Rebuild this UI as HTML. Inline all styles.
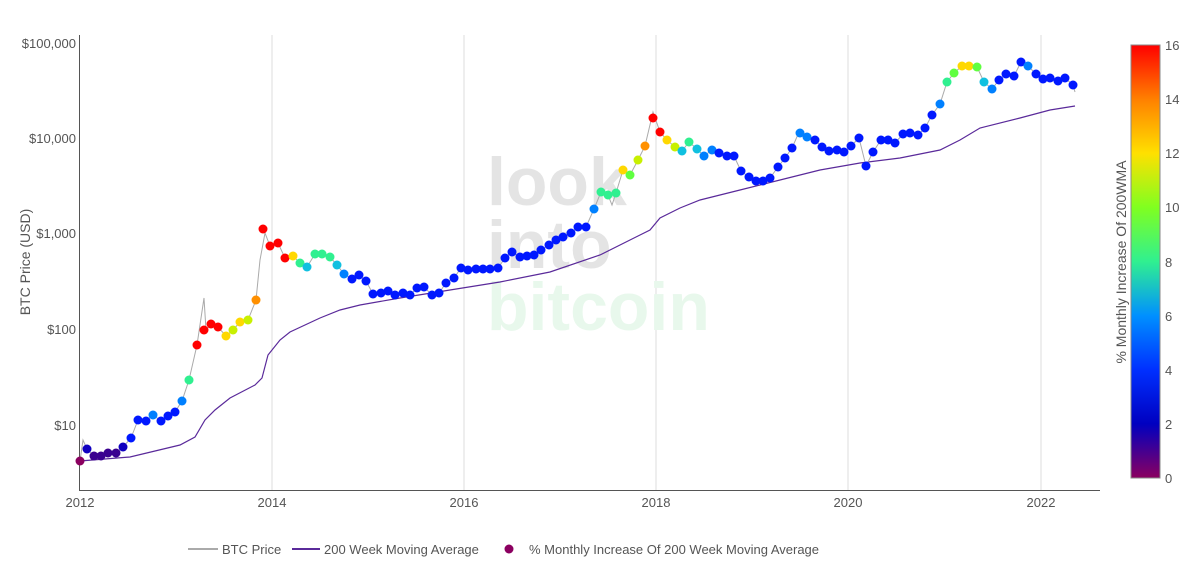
<!DOCTYPE html>
<html><head><meta charset="utf-8"><style>
body{margin:0;background:#fff;font-family:"Liberation Sans",sans-serif}
svg text{font-family:"Liberation Sans",sans-serif;fill:#555}
</style></head><body>
<svg width="1200" height="575" xmlns="http://www.w3.org/2000/svg">
<defs><linearGradient id="cb" x1="0" y1="1" x2="0" y2="0">
<stop offset="0" stop-color="#8b0060"/><stop offset="0.125" stop-color="#0000c0"/><stop offset="0.25" stop-color="#0030ff"/><stop offset="0.375" stop-color="#0090ff"/><stop offset="0.5" stop-color="#30f090"/><stop offset="0.625" stop-color="#80ff20"/><stop offset="0.75" stop-color="#ffe000"/><stop offset="0.875" stop-color="#ff8000"/><stop offset="1" stop-color="#ff0000"/></linearGradient></defs>
<g stroke="#ddd" stroke-width="1">
<line x1="272" y1="35" x2="272" y2="490"/><line x1="464" y1="35" x2="464" y2="490"/><line x1="656" y1="35" x2="656" y2="490"/><line x1="848" y1="35" x2="848" y2="490"/><line x1="1041" y1="35" x2="1041" y2="490"/></g>
<line x1="79.5" y1="35" x2="79.5" y2="490" stroke="#555"/>
<line x1="79" y1="490.5" x2="1100" y2="490.5" stroke="#555"/>
<g font-size="13" text-anchor="end"><text x="76" y="48">$100,000</text><text x="76" y="143">$10,000</text><text x="76" y="238">$1,000</text><text x="76" y="334">$100</text><text x="76" y="430">$10</text></g>
<g font-size="13" text-anchor="middle"><text x="80" y="507">2012</text><text x="272" y="507">2014</text><text x="464" y="507">2016</text><text x="656" y="507">2018</text><text x="848" y="507">2020</text><text x="1041" y="507">2022</text></g>
<text transform="translate(30,262) rotate(-90)" font-size="14" text-anchor="middle">BTC Price (USD)</text>
<g font-size="68" font-weight="bold"><text x="487" y="205" style="fill:#e4e4e4">look</text><text x="487" y="268" style="fill:#e4e4e4">into</text><text x="487" y="330" style="fill:#e8f8ec">bitcoin</text></g>
<polyline fill="none" stroke="#5a2a9a" stroke-width="1.2" points="80,461 130,457 180,445 195,437 205,420 215,410 230,398 255,385 262,378 268,355 280,340 290,332 320,318 340,310 360,305 400,298 450,290 500,282 550,272 600,255 630,240 650,230 660,218 680,208 700,200 740,190 780,180 820,170 860,163 900,158 940,150 960,140 980,128 1020,118 1050,110 1075,106"/>
<polyline fill="none" stroke="#aaa" stroke-width="1" points="80,461 83,440 87,449 94,456 101,456 108,453 116,453 123,447 131,438 138,420 146,421 153,415 161,421 168,416 175,412 182,401 189,380 197,345 204,298 206,330 211,324 218,327 226,336 233,330 240,322 248,320 256,300 260,260 265,233 270,246 278,243 285,258 293,256 300,263 307,267 315,254 322,254 330,257 337,265 344,274 352,279 359,275 366,281 373,294 381,293 388,291 395,295 403,293 410,295 417,288 424,287 432,295 439,293 446,283 454,278 461,268 468,270 476,269 483,269 490,269 498,268 505,258 512,252 520,257 527,256 534,255 541,250 549,245 556,240 563,237 571,233 578,227 586,227 594,209 601,192 608,195 612,205 616,193 623,170 630,175 638,160 645,146 653,112 660,132 667,140 675,147 682,151 689,142 697,149 704,156 712,150 719,153 727,156 734,156 741,171 749,177 756,181 763,181 770,178 778,167 785,158 792,148 800,130 807,137 815,140 822,147 829,151 837,150 844,152 851,146 859,138 866,166 873,152 881,140 888,140 895,143 903,134 910,133 918,135 925,128 932,115 940,104 947,82 954,73 962,66 969,66 977,67 984,82 992,89 999,80 1006,74 1014,76 1021,62 1028,66 1036,74 1043,79 1050,78 1058,81 1065,78 1073,85 1075,92"/>
<g id="dots"></g>
<rect x="1131" y="45" width="29" height="433" fill="url(#cb)" stroke="#888"/>
<g font-size="13" style="fill:#444"><text x="1165" y="50">16</text><text x="1165" y="104">14</text><text x="1165" y="158">12</text><text x="1165" y="212">10</text><text x="1165" y="267">8</text><text x="1165" y="321">6</text><text x="1165" y="375">4</text><text x="1165" y="429">2</text><text x="1165" y="483">0</text></g>
<text transform="translate(1126,262) rotate(-90)" font-size="14" text-anchor="middle">% Monthly Increase Of 200WMA</text>
<line x1="188" y1="549" x2="218" y2="549" stroke="#aaa" stroke-width="2"/><text x="222" y="554" font-size="13">BTC Price</text>
<line x1="292" y1="549" x2="320" y2="549" stroke="#5a2a9a" stroke-width="2"/><text x="324" y="554" font-size="13">200 Week Moving Average</text>
<circle cx="509" cy="549" r="4.5" fill="#8b0060"/><text x="529" y="554" font-size="13">% Monthly Increase Of 200 Week Moving Average</text>
</svg>
<script>
var R='#ff0000',O='#ff9000',Y='#ffd800',YG='#c8f000',G='#60ff40',T='#30f090',C='#10c0e0',L='#0080ff',B='#0018ff',D='#1000c0',P='#3a0090',M='#8b0060';
var d=[[80,461,M],[87,449,D],[94,456,P],[101,456,P],[108,453,P],[116,453,P],[123,447,D],[131,438,B],[138,420,B],[146,421,B],[153,415,L],[161,421,B],[168,416,B],[175,412,B],[182,401,L],[189,380,T],[197,345,R],[204,330,R],[211,324,R],[218,327,R],[226,336,Y],[233,330,YG],[240,322,Y],[248,320,YG],[256,300,O],[263,229,R],[270,246,R],[278,243,R],[285,258,R],[293,256,Y],[300,263,T],[307,267,C],[315,254,T],[322,254,T],[330,257,T],[337,265,C],[344,274,L],[352,279,B],[359,275,B],[366,281,B],[373,294,B],[381,293,B],[388,291,B],[395,295,B],[403,293,B],[410,295,B],[417,288,B],[424,287,B],[432,295,B],[439,293,B],[446,283,B],[454,278,B],[461,268,B],[468,270,B],[476,269,B],[483,269,B],[490,269,B],[498,268,B],[505,258,B],[512,252,B],[520,257,B],[527,256,B],[534,255,B],[541,250,B],[549,245,B],[556,240,B],[563,237,B],[571,233,B],[578,227,B],[586,227,B],[594,209,L],[601,192,T],[608,195,T],[616,193,T],[623,170,Y],[630,175,G],[638,160,YG],[645,146,O],[653,118,R],[660,132,R],[667,140,Y],[675,147,YG],[682,151,C],[689,142,T],[697,149,C],[704,156,L],[712,150,L],[719,153,B],[727,156,B],[734,156,B],[741,171,B],[749,177,B],[756,181,B],[763,181,B],[770,178,B],[778,167,B],[785,158,B],[792,148,B],[800,133,L],[807,137,L],[815,140,B],[822,147,B],[829,151,B],[837,150,B],[844,152,B],[851,146,B],[859,138,B],[866,166,B],[873,152,B],[881,140,B],[888,140,B],[895,143,B],[903,134,B],[910,133,B],[918,135,B],[925,128,B],[932,115,B],[940,104,L],[947,82,T],[954,73,G],[962,66,Y],[969,66,Y],[977,67,G],[984,82,C],[992,89,L],[999,80,B],[1006,74,B],[1014,76,B],[1021,62,B],[1028,66,L],[1036,74,B],[1043,79,B],[1050,78,B],[1058,81,B],[1065,78,B],[1073,85,B]];
var g=document.getElementById('dots'),s='';
d.forEach(function(p){s+='<circle cx="'+p[0]+'" cy="'+p[1]+'" r="4.5" fill="'+p[2]+'"/>';});
g.innerHTML=s;
</script>
</body></html>
